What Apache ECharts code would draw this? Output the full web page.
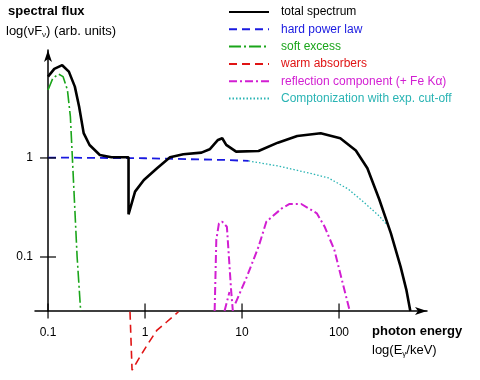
<!DOCTYPE html>
<html><head><meta charset="utf-8">
<script src="https://cdn.jsdelivr.net/npm/echarts@6/dist/echarts.min.js"></script>
<style>html,body{margin:0;padding:0;background:#fff}#c{width:480px;height:380px}</style>
</head><body><div id="c"></div>
<script>
// ---- data (energy in keV, flux in arb. units) ----
const totalE = [0.1, 0.116, 0.140, 0.164, 0.189, 0.209, 0.233, 0.268, 0.342, 0.451, 0.676, 0.676, 0.789, 0.973, 1.33, 1.81, 2.48, 3.82, 4.64, 5.65, 6.25, 6.87, 8.69, 14.8, 23.4, 37.1, 64.7, 103, 149, 196, 259, 342, 431, 496, 543];
const totalF = [6.63, 7.93, 8.64, 7.44, 5.25, 3.30, 1.78, 1.35, 1.07, 1.016, 1.016, 0.270, 0.457, 0.600, 0.787, 1.016, 1.090, 1.131, 1.224, 1.519, 1.581, 1.353, 1.158, 1.177, 1.427, 1.668, 1.776, 1.581, 1.191, 0.787, 0.385, 0.174, 0.080, 0.046, 0.0285];
const powerE = [0.1, 1, 6.87, 11.7];
const powerF = [1.01, 0.993, 0.954, 0.933];
const softE = [0.1, 0.112, 0.1285, 0.143, 0.1585, 0.170, 0.176, 0.187, 0.1995, 0.217];
const softF = [4.86, 6.38, 7.01, 6.62, 4.86, 2.61, 1.30, 0.377, 0.1, 0.0285];
const warmE = [0.70, 0.735, 0.846, 1.05, 1.33, 1.68, 2.21];
const warmF = [0.028, 0.0072, 0.0091, 0.0129, 0.0183, 0.0222, 0.028];
const feE = [5.22, 5.43, 5.78, 6.25, 6.98, 7.32, 7.72, 8.04];
const feF = [0.0285, 0.149, 0.219, 0.227, 0.202, 0.101, 0.046, 0.0285];
const edgeE = [6.6, 7.42];
const edgeF = [0.0285, 0.0443];
const reflE = [8.54, 11.2, 14.8, 17.8, 25.7, 30.9, 40.8, 59.0, 71.1, 89.5, 103, 129];
const reflF = [0.034, 0.063, 0.127, 0.227, 0.310, 0.343, 0.343, 0.276, 0.202, 0.118, 0.068, 0.0285];
const compE = [11.7, 23.4, 48.6, 77.9, 124, 179, 259, 327];
const compF = [0.933, 0.830, 0.706, 0.628, 0.486, 0.359, 0.260, 0.201];
const xTickValues = [0.1, 1, 10, 100];
const xTickLabels = ['0.1', '1', '10', '100'];
const yTickValues = [0.1, 1];
const yTickLabels = ['0.1', '1'];
const seriesNames = ['total spectrum', 'hard power law', 'soft excess', 'warm absorbers', 'reflection component (+ Fe K\u03b1)', 'Comptonization with exp. cut-off'];
const seriesColors = ['#000000', '#1a1ae0', '#1aa51a', '#e01414', '#d21ed2', '#2ab4b4'];

const X_MIN = 0.0734, X_MAX = 807, Y_MIN = 0.0285, Y_MAX = 12.3;
const FONT = 'Liberation Sans, Arial, Helvetica, sans-serif';
const zip = (a, b) => a.map((v, i) => [v, b[i]]);
const pick = (vals, labels) => v => {
  for (let i = 0; i < vals.length; i++) if (Math.abs(Math.log10(v) - Math.log10(vals[i])) < 1e-6) return labels[i];
  return '';
};

const chart = echarts.init(document.getElementById('c'), null, {renderer: 'canvas'});
const lineSeries = (idx, e, f, type, width, extra) => Object.assign({
  type: 'line', name: seriesNames[idx], data: zip(e, f), symbol: 'none', showSymbol: false,
  lineStyle: {color: seriesColors[idx], width: width, type: type}, itemStyle: {color: seriesColors[idx]},
  animation: false, silent: true
}, extra || {});

chart.setOption({
  animation: false,
  textStyle: {fontFamily: FONT},
  title: [
    {text: 'spectral flux', left: 8, top: 5, padding: 0, textStyle: {fontFamily: FONT, fontWeight: 'bold', fontSize: 13, color: '#000'}},
    {text: 'log(\u03bdF{s|\u03bd}) (arb. units)', left: 6, top: 24, padding: 0, textStyle: {fontFamily: FONT, fontWeight: 'normal', fontSize: 13, color: '#000', rich: {s: {fontSize: 8, padding: [7, 0, 0, 0], fontFamily: FONT, color: '#000'}}}},
    {text: 'photon energy', left: 372, top: 325, padding: 0, textStyle: {fontFamily: FONT, fontWeight: 'bold', fontSize: 13, color: '#000'}},
    {text: 'log(E{s|\u03b3}/keV)', left: 372, top: 343, padding: 0, textStyle: {fontFamily: FONT, fontWeight: 'normal', fontSize: 13, color: '#000', rich: {s: {fontSize: 8, padding: [7, 0, 0, 0], fontFamily: FONT, color: '#000'}}}}
  ],
  legend: {
    orient: 'vertical', left: 228, top: 6, itemWidth: 40, itemHeight: 12, itemGap: 5.3, padding: 0,
    selectedMode: false,
    itemStyle: {opacity: 0},
    data: seriesNames.map((n, i) => ({name: n, textStyle: {color: seriesColors[i]}})),
    textStyle: {fontFamily: FONT, fontSize: 12, lineHeight: 12, padding: [0, 0, 0, 7]}
  },
  grid: {left: 35, right: 53, top: 50, bottom: 69, containLabel: false, outerBoundsMode: 'none'},
  xAxis: {
    type: 'log', logBase: 10, min: X_MIN, max: X_MAX,
    axisLine: {show: true, lineStyle: {color: '#000', width: 1.5}, symbol: ['none', 'arrow'], symbolSize: [6, 12]},
    axisTick: {show: false}, splitLine: {show: false}, minorTick: {show: false},
    axisLabel: {show: true, margin: 16, fontSize: 12, color: '#000', fontFamily: FONT, showMinLabel: false, showMaxLabel: false, formatter: pick(xTickValues, xTickLabels)}
  },
  yAxis: {
    type: 'log', logBase: 10, min: Y_MIN, max: Y_MAX, offset: -13,
    axisLine: {show: true, lineStyle: {color: '#000', width: 1.5}, symbol: ['none', 'arrow'], symbolSize: [6, 12]},
    axisTick: {show: false}, splitLine: {show: false}, minorTick: {show: false},
    axisLabel: {show: true, margin: 15, fontSize: 12, color: '#000', fontFamily: FONT, showMinLabel: false, showMaxLabel: false, formatter: pick(yTickValues, yTickLabels)}
  },
  series: [
    lineSeries(5, compE, compF, [1.5, 2], 1.3, {z: 3}),
    lineSeries(1, powerE, powerF, [8, 5], 1.8, {z: 3}),
    lineSeries(2, softE, softF, [12, 3, 2, 3], 1.6, {z: 3}),
    lineSeries(3, warmE, warmF, [8, 5], 1.6, {z: 3, clip: false}),
    lineSeries(4, feE, feF, [8, 3, 2, 3], 2, {z: 3}),
    lineSeries(4, edgeE, edgeF, [8, 3, 2, 3], 2, {z: 3}),
    lineSeries(4, reflE, reflF, [8, 3, 2, 3], 2, {z: 3}),
    lineSeries(0, totalE, totalF, 'solid', 2.6, {z: 4}),
    {type: 'scatter', name: 'xticks', data: xTickValues.map(v => [v, Y_MIN]), symbol: 'rect', symbolSize: [1.5, 15], itemStyle: {color: '#000'}, clip: false, silent: true, z: 5},
    {type: 'scatter', name: 'yticks', data: yTickValues.map(v => [xTickValues[0], v]), symbol: 'rect', symbolSize: [16, 1.5], itemStyle: {color: '#000'}, clip: false, silent: true, z: 5}
  ]
});
</script></body></html>
